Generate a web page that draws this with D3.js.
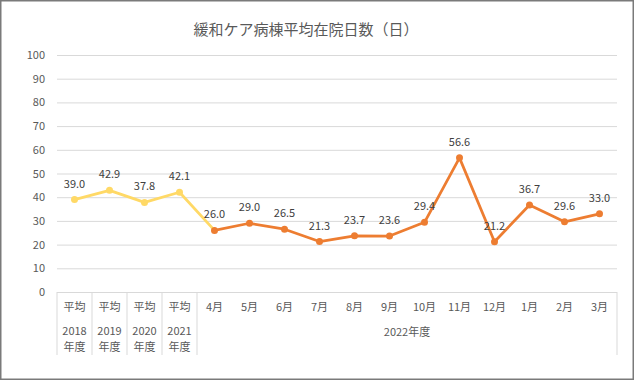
<!DOCTYPE html>
<html>
<head>
<meta charset="utf-8">
<script src="https://cdn.jsdelivr.net/npm/d3@7"></script>
<style>
  body { margin: 0; background: #fff; }
  text { font-family: "Noto Sans CJK JP", "Noto Sans", sans-serif; }
</style>
</head>
<body>
<div id="canvas"></div>
<script>
//Datos del grafico
const categorias = ["2018", "2019", "2020", "2021", "4月", "5月", "6月", "7月", "8月", "9月", "10月", "11月", "12月", "1月", "2月", "3月"];
const promedios = ["2018", "2019", "2020", "2021"];
const valoresPromedio = [39.0, 42.9, 37.8, 42.1];
const meses = ["4月", "5月", "6月", "7月", "8月", "9月", "10月", "11月", "12月", "1月", "2月", "3月"];
const valoresMes = [26.0, 29.0, 26.5, 21.3, 23.7, 23.6, 29.4, 56.6, 21.2, 36.7, 29.6, 33.0];
const yTicks = [0, 10, 20, 30, 40, 50, 60, 70, 80, 90, 100];
const titulo = "緩和ケア病棟平均在院日数（日）";
const grupoMeses = "2022年度";

const width = 634;
const height = 380;
const margin = { top: 55, left: 57, bottom: 88, right: 17 };
const iwidth = width - margin.left - margin.right;
const iheight = height - margin.top - margin.bottom;

const svg = d3.select("#canvas")
  .append("svg")
  .attr("width", width)
  .attr("height", height);

//Borde exterior
svg.append("rect")
  .attr("x", 0.75)
  .attr("y", 0.75)
  .attr("width", width - 1.5)
  .attr("height", height - 1.5)
  .style("fill", "#fff")
  .style("stroke", "#7a7a7a")
  .style("stroke-width", 1.5);

svg.append("text")
  .attr("x", 306)
  .attr("y", 35)
  .attr("text-anchor", "middle")
  .style("font-size", "15px")
  .style("fill", "#595959")
  .text(titulo);

const g = svg.append("g")
  .attr("transform", `translate(${margin.left},${margin.top})`);

const x = d3.scaleBand()
  .domain(categorias)
  .range([0, iwidth])
  .padding(0);

const y = d3.scaleLinear()
  .domain([0, 100])
  .range([iheight, 0]);

//Lineas de la grilla y eje y
const yAxis = g.append("g")
  .call(d3.axisLeft(y).tickValues(yTicks).tickSize(-iwidth).tickPadding(12).tickFormat(d3.format("d")));
yAxis.select(".domain").remove();
yAxis.selectAll("line").style("stroke", "#d9d9d9");
yAxis.selectAll("text")
  .style("font-size", "11px")
  .style("fill", "#595959")
  .attr("font-family", null);

//Eje x con dos niveles
const xg = g.append("g").attr("transform", `translate(0,${iheight})`);
const bordes = [0, 1, 2, 3, 4].map(i => x(categorias[i])).concat([iwidth]);
xg.selectAll(".sep")
  .data(bordes)
  .enter()
  .append("line")
  .attr("x1", d => d)
  .attr("x2", d => d)
  .attr("y1", 0)
  .attr("y2", 63)
  .style("stroke", "#d9d9d9");

xg.selectAll(".avg")
  .data(promedios)
  .enter()
  .append("text")
  .attr("x", d => x(d) + x.bandwidth() / 2)
  .attr("y", 19)
  .attr("text-anchor", "middle")
  .style("font-size", "11px")
  .style("fill", "#595959")
  .text("平均");

xg.selectAll(".yr")
  .data(promedios)
  .enter()
  .append("text")
  .attr("x", d => x(d) + x.bandwidth() / 2)
  .attr("y", 43)
  .attr("text-anchor", "middle")
  .style("font-size", "11px")
  .style("fill", "#595959")
  .text(d => d);

xg.selectAll(".nendo")
  .data(promedios)
  .enter()
  .append("text")
  .attr("x", d => x(d) + x.bandwidth() / 2)
  .attr("y", 59)
  .attr("text-anchor", "middle")
  .style("font-size", "11px")
  .style("fill", "#595959")
  .text("年度");

xg.selectAll(".mes")
  .data(meses)
  .enter()
  .append("text")
  .attr("x", d => x(d) + x.bandwidth() / 2)
  .attr("y", 19)
  .attr("text-anchor", "middle")
  .style("font-size", "11px")
  .style("fill", "#595959")
  .text(d => d);

xg.append("text")
  .attr("x", (x(meses[0]) + iwidth) / 2)
  .attr("y", 44)
  .attr("text-anchor", "middle")
  .style("font-size", "11px")
  .style("fill", "#595959")
  .text(grupoMeses);

//Series
const datosPromedio = promedios.map((c, i) => ({ cat: c, value: valoresPromedio[i] }));
const datosMes = meses.map((c, i) => ({ cat: c, value: valoresMes[i] }));
const cx = d => x(d.cat) + x.bandwidth() / 2;

const line = d3.line()
  .x(cx)
  .y(d => y(d.value));

g.append("path")
  .datum(datosPromedio.concat([datosMes[0]]))
  .attr("d", line)
  .style("fill", "none")
  .style("stroke", "#ffd966")
  .style("stroke-width", 2.75)
  .style("stroke-linejoin", "round");

g.selectAll(".dotP")
  .data(datosPromedio)
  .enter()
  .append("circle")
  .attr("cx", cx)
  .attr("cy", d => y(d.value))
  .attr("r", 3.5)
  .style("fill", "#ffd966");

g.append("path")
  .datum(datosMes)
  .attr("d", line)
  .style("fill", "none")
  .style("stroke", "#ed7d31")
  .style("stroke-width", 2.75)
  .style("stroke-linejoin", "round");

g.selectAll(".dotM")
  .data(datosMes)
  .enter()
  .append("circle")
  .attr("cx", cx)
  .attr("cy", d => y(d.value))
  .attr("r", 3.5)
  .style("fill", "#ed7d31");

//Etiquetas de datos
g.selectAll(".lbl")
  .data(datosPromedio.concat(datosMes))
  .enter()
  .append("text")
  .attr("x", cx)
  .attr("y", d => y(d.value) - 12)
  .attr("text-anchor", "middle")
  .style("font-size", "11px")
  .style("fill", "#404040")
  .text(d => d.value.toFixed(1));
</script>
</body>
</html>
